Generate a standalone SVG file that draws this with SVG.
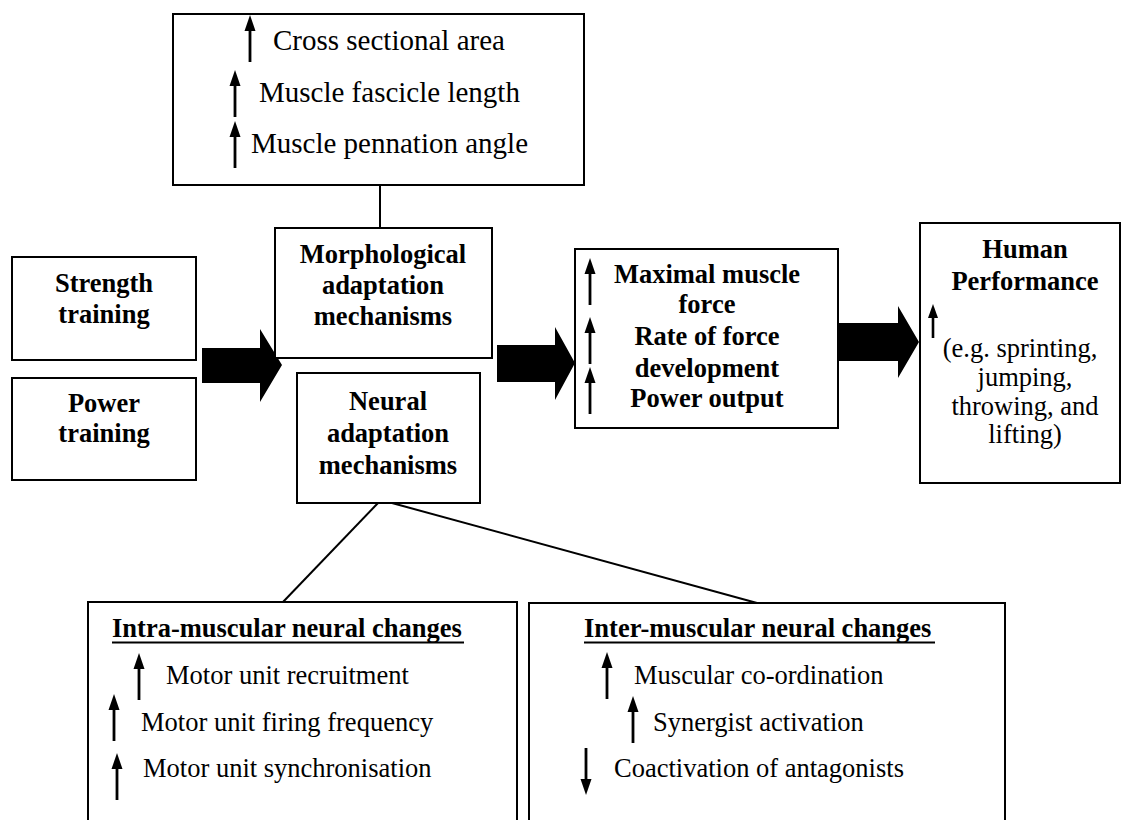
<svg xmlns="http://www.w3.org/2000/svg" xmlns:xlink="http://www.w3.org/1999/xlink" width="1128" height="820" viewBox="0 0 1128 820">
<style>
.box{fill:#fff;stroke:#000;stroke-width:2}
.conn{stroke:#000;stroke-width:2;fill:none}
.b{font-family:"Liberation Serif","Times New Roman",serif;font-weight:bold;font-size:26.5px;fill:#000}
.r{font-family:"Liberation Serif","Times New Roman",serif;font-size:26.5px;fill:#000}
.t{font-family:"Liberation Serif","Times New Roman",serif;font-size:29px;fill:#000}
.c{text-anchor:middle}
.big{fill:#000}
</style>
<defs>
<g id="up"><polygon points="0,0 -5.5,16 5.5,16" fill="#000"/><rect x="-1.4" y="14" width="2.8" height="33" fill="#000"/></g>
<g id="upshort"><polygon points="0,0 -5,14 5,14" fill="#000"/><rect x="-1.3" y="12" width="2.6" height="22" fill="#000"/></g>
<g id="down"><polygon points="0,47 -5.5,31 5.5,31" fill="#000"/><rect x="-1.4" y="0" width="2.8" height="33" fill="#000"/></g>
</defs>
<rect width="1128" height="820" fill="#fff"/>
<g id="connectors">
<line class="conn" x1="380" y1="185" x2="380" y2="228"/>
<line class="conn" x1="378" y1="503" x2="283" y2="602"/>
<line class="conn" x1="392" y1="503" x2="757" y2="603"/>
<polygon class="big" points="202,348 260,348 260,329 282,365 260,402 260,383 202,383"/>
<polygon class="big" points="497,345 555,345 555,327 575,363 555,400 555,382 497,382"/>
<polygon class="big" points="838,323 898,323 898,306 919,342 898,378 898,361 838,361"/>
</g>
<g id="morph-features">
<rect class="box" x="173" y="14" width="411" height="171"/>
<use xlink:href="#up" x="250" y="15"/>
<text class="t" x="273" y="50">Cross sectional area</text>
<use xlink:href="#up" x="235" y="70"/>
<text class="t" x="259" y="102">Muscle fascicle length</text>
<use xlink:href="#up" x="235" y="121"/>
<text class="t" x="251" y="153">Muscle pennation angle</text>
</g>
<g id="strength">
<rect class="box" x="12" y="257" width="184" height="103"/>
<text class="b c" x="104" y="292">Strength</text>
<text class="b c" x="104" y="323">training</text>
</g>
<g id="power">
<rect class="box" x="12" y="378" width="184" height="102"/>
<text class="b c" x="104" y="412">Power</text>
<text class="b c" x="104" y="442">training</text>
</g>
<g id="morph">
<rect class="box" x="275" y="228" width="217" height="130"/>
<text class="b c" x="383" y="263">Morphological</text>
<text class="b c" x="383" y="294">adaptation</text>
<text class="b c" x="383" y="325">mechanisms</text>
</g>
<g id="neural">
<rect class="box" x="297" y="373" width="183" height="130"/>
<text class="b c" x="388" y="410">Neural</text>
<text class="b c" x="388" y="442">adaptation</text>
<text class="b c" x="388" y="474">mechanisms</text>
</g>
<g id="outcomes">
<rect class="box" x="575" y="249" width="263" height="179"/>
<use xlink:href="#up" x="590" y="258"/>
<use xlink:href="#up" x="590" y="317"/>
<use xlink:href="#up" x="590" y="367"/>
<text class="b c" x="707" y="283">Maximal muscle</text>
<text class="b c" x="707" y="313">force</text>
<text class="b c" x="707" y="345">Rate of force</text>
<text class="b c" x="707" y="377">development</text>
<text class="b c" x="707" y="407">Power output</text>
</g>
<g id="performance">
<rect class="box" x="920" y="223" width="200" height="260"/>
<text class="b c" x="1025" y="258">Human</text>
<text class="b c" x="1025" y="290">Performance</text>
<use xlink:href="#upshort" x="933" y="304"/>
<text class="r c" x="1020" y="357">(e.g. sprinting,</text>
<text class="r c" x="1025" y="386">jumping,</text>
<text class="r c" x="1025" y="415">throwing, and</text>
<text class="r c" x="1025" y="443">lifting)</text>
</g>
<g id="intra">
<rect class="box" x="88" y="602" width="429" height="240"/>
<text class="b" x="112" y="637">Intra-muscular neural changes</text>
<line x1="112" y1="642.5" x2="464" y2="642.5" stroke="#000" stroke-width="2"/>
<use xlink:href="#up" x="139" y="653"/>
<text class="r" x="166" y="684">Motor unit recruitment</text>
<use xlink:href="#up" x="114" y="694"/>
<text class="r" x="141" y="731">Motor unit firing frequency</text>
<use xlink:href="#up" x="117" y="753"/>
<text class="r" x="143" y="777">Motor unit synchronisation</text>
</g>
<g id="inter">
<rect class="box" x="529" y="603" width="476" height="240"/>
<text class="b" x="584" y="637">Inter-muscular neural changes</text>
<line x1="584" y1="642.5" x2="935" y2="642.5" stroke="#000" stroke-width="2"/>
<use xlink:href="#up" x="607" y="652"/>
<text class="r" x="634" y="684">Muscular co-ordination</text>
<use xlink:href="#up" x="633" y="696"/>
<text class="r" x="653" y="731">Synergist activation</text>
<use xlink:href="#down" x="586" y="748"/>
<text class="r" x="614" y="777">Coactivation of antagonists</text>
</g>
</svg>
